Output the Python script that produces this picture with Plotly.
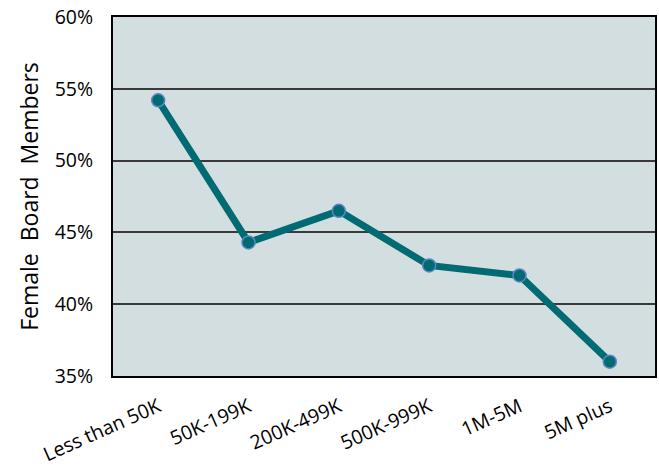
import plotly.graph_objects as go

categories = ["Less than 50K", "50K-199K", "200K-499K", "500K-999K", "1M-5M", "5M plus"]
female_share = [0.542, 0.443, 0.465, 0.427, 0.420, 0.360]
y_ticks = [0.35, 0.40, 0.45, 0.50, 0.55, 0.60]

font_family = "'Open Sans', sans-serif"

fig = go.Figure(
    go.Scatter(
        x=categories,
        y=female_share,
        mode="lines+markers",
        line=dict(color="#006b73", width=7),
        marker=dict(size=13, color="#006b73", line=dict(color="#5b86c5", width=1.5)),
        hoverinfo="skip",
    )
)

fig.update_layout(
    width=659,
    height=470,
    margin=dict(l=113, r=2, t=17, b=94),
    paper_bgcolor="white",
    plot_bgcolor="#d3dee0",
    showlegend=False,
    font=dict(family=font_family, size=18, color="black"),
)

# each category sits in the middle of an equal-width band
fig.update_xaxes(
    type="category",
    range=[-0.5, len(categories) - 0.5],
    tickangle=-24,
    showgrid=False,
    showline=True,
    linecolor="black",
    linewidth=2,
    mirror=True,
    ticks="",
    ticklabelstandoff=10,
    tickfont=dict(size=19.5),
)

fig.update_yaxes(
    range=[0.35, 0.60],
    tickvals=y_ticks,
    tickformat=".0%",
    showgrid=True,
    gridcolor="#3a3a3a",
    gridwidth=1.5,
    showline=True,
    linecolor="black",
    linewidth=2,
    mirror=True,
    ticks="",
    ticklen=0,
    ticklabelstandoff=14,
    zeroline=False,
    title=dict(text="Female\u00a0\u00a0Board\u00a0\u00a0Members", font=dict(size=23), standoff=10),
    tickfont=dict(size=19.5),
)

fig.write_html("out.html")
